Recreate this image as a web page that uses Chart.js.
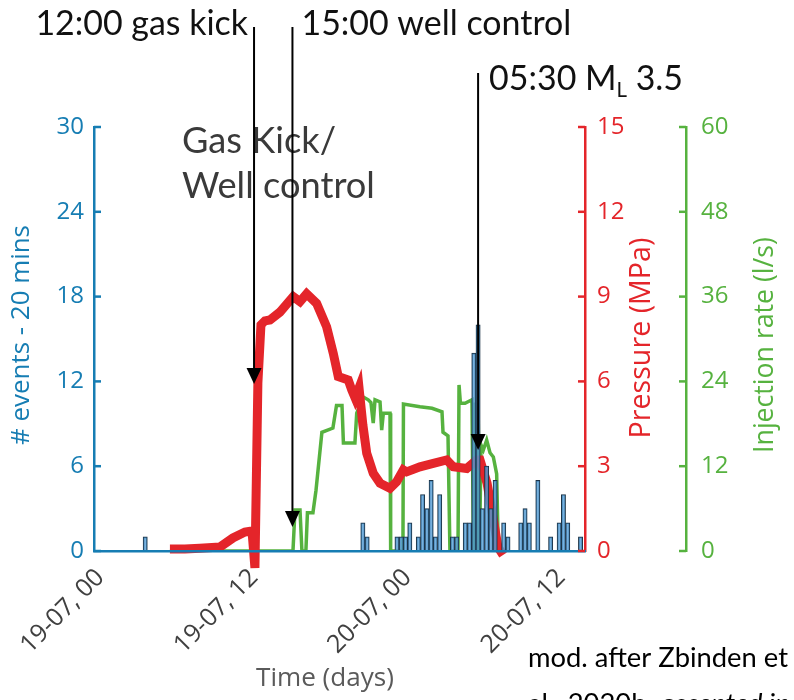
<!DOCTYPE html>
<html>
<head>
<meta charset="utf-8">
<script src="https://cdn.jsdelivr.net/npm/chart.js@4.4.0/dist/chart.umd.min.js"></script>
<style>
  html, body { margin: 0; padding: 0; background: #ffffff; }
  canvas { display: block; }
</style>
</head>
<body>
<canvas id="c" width="794" height="700"></canvas>
<script>
// ---- Time axis (hours since 19-07 00:00) ----
const tickHours  = [0, 12, 24, 36];
const tickLabels = ['19-07, 00', '19-07, 12', '20-07, 00', '20-07, 12'];

// ---- Seismic events per 20-minute bin (bin index counted from 19-07 00:00) ----
const eventBins   = [10, 61, 62, 69, 70, 71, 72, 74, 75, 76, 77, 78, 79, 82, 83, 85, 86, 87, 88, 89,
                     90, 91, 92, 94, 95, 98, 99, 100, 102, 105, 107, 108, 109, 112];
const eventCounts = [1, 2, 1, 1, 1, 1, 2, 1, 4, 3, 5, 1, 4, 1, 1, 2, 2, 14, 16, 3,
                     6, 3, 5, 2, 1, 2, 3, 2, 5, 1, 2, 4, 2, 1];

// ---- Wellhead pressure (MPa) ----
const pressureHours = [5.43, 6.6, 7.77, 9.34, 10.35, 11.29, 11.84, 12.07, 12.3, 12.54, 12.85, 13.24, 14.02,
                       15.06, 15.59, 16.11, 16.89, 17.67, 18.19, 18.58, 19.36, 19.63, 19.9, 20.2, 20.5,
                       20.8, 21.31, 21.84, 22.62, 23.14, 23.66, 23.92, 24.96, 26.0, 27.05, 27.56,
                       28.61, 29.39, 29.65, 30.2, 30.66, 31.05, 31.45];
const pressureMPa   = [0.07, 0.07, 0.1, 0.14, 0.46, 0.67, 0.71, -0.6, 5.94, 8.0, 8.14, 8.17, 8.45,
                       9.0, 8.82, 9.1, 8.76, 7.93, 6.99, 6.17, 6.05, 5.7, 5.41, 5.77, 4.46,
                       3.46, 2.75, 2.4, 2.22, 2.45, 2.87, 2.8, 2.98, 3.1, 3.22, 2.98,
                       2.92, 3.22, 3.22, 2.4, 1.2, 0.14, -0.14];

// ---- Injection rate (l/s) ----
const rateHours = [5.43, 15.04, 15.2, 15.59, 15.74, 16.05, 16.17, 16.6, 16.84, 17.3, 18.16, 18.44, 18.87,
                   18.98, 19.88, 20.02, 20.53, 20.92, 21.13, 21.31, 21.45, 21.84, 21.97, 22.1, 22.62,
                   22.67, 23.63, 23.67, 24.96, 25.9, 26.68, 26.76, 27.15, 27.3, 27.93, 28.01, 28.12,
                   28.48, 29.02, 29.14, 29.26, 29.38, 29.5, 29.61, 29.73, 29.91, 30.17, 30.43, 30.69,
                   30.95, 31.08, 31.6];
const rateLps   = [0, 0, 5.8, 5.8, 0, 0, 5.4, 5.4, 8.6, 16.8, 17.4, 20.6, 20.6,
                   15.3, 15.3, 19.5, 21.8, 21.4, 21.0, 18.1, 21.4, 21.1, 17.1, 19.5, 19.5,
                   0, 0, 20.8, 20.4, 20.2, 19.7, 16.8, 16.3, 0, 0, 23.5, 20.9,
                   20.9, 21.4, 0, 21, 0, 21, 0, 15, 14.3, 15.7, 13.9, 13.3,
                   10.9, 0, 0];

// ---- Operational events (hours since 19-07 00:00) ----
const markerHours = [12, 15, 29.5];

const BLUE  = '#167db3';
const RED   = '#e4252a';
const GREEN = '#56b23f';

// Font size (px) that makes `text` span `target` pixels
function fitSize(ctx, text, family, target, style) {
  ctx.font = (style || '') + ' 100px ' + family;
  return 100 * target / ctx.measureText(text).width;
}

const overlay = {
  id: 'overlay',
  afterDraw(chart) {
    const ctx = chart.ctx;
    const { x, y, yP, yQ } = chart.scales;
    ctx.save();

    // inward tick marks on the three value axes
    const axes = [[y, y.right, 1, BLUE], [yP, yP.left, -1, RED], [yQ, yQ.left, -1, GREEN]];
    for (const [s, ax, dir, col] of axes) {
      ctx.strokeStyle = col;
      ctx.lineWidth = 2.5;
      for (const t of s.ticks) {
        const py = s.getPixelForValue(t.value);
        ctx.beginPath();
        ctx.moveTo(ax, py);
        ctx.lineTo(ax + dir * 7, py);
        ctx.stroke();
      }
    }

    // axis titles
    const vTitle = (text, cx, cy, len, color) => {
      const fs = fitSize(ctx, text, '"Open Sans"', len);
      ctx.save();
      ctx.translate(cx, cy);
      ctx.rotate(-Math.PI / 2);
      ctx.font = fs + 'px "Open Sans"';
      ctx.fillStyle = color;
      ctx.textAlign = 'center';
      ctx.textBaseline = 'middle';
      ctx.fillText(text, 0, 0);
      ctx.restore();
    };
    vTitle('# events - 20 mins', 22, 335, 220, BLUE);
    vTitle('Pressure (MPa)', 642, 338, 201, RED);
    vTitle('Injection rate (l/s)', 765, 345, 216, GREEN);

    let fs = fitSize(ctx, 'Time (days)', '"Open Sans"', 138);
    ctx.font = fs + 'px "Open Sans"';
    ctx.fillStyle = '#5a5a5a';
    ctx.textAlign = 'center';
    ctx.textBaseline = 'alphabetic';
    ctx.fillText('Time (days)', 325, 686);

    // phase label
    fs = fitSize(ctx, 'Well control', 'Lato', 193);
    ctx.font = fs + 'px Lato';
    ctx.fillStyle = '#3a3a3a';
    ctx.textAlign = 'left';
    ctx.fillText('Gas Kick/', 182, 153);
    ctx.fillText('Well control', 182, 198);

    // event arrows with their labels
    const af = fitSize(ctx, '15:00 well control', 'Lato', 270);
    const tops = [27, 27, 73];
    const tips = [384, 527, 450];
    markerHours.forEach((h, i) => {
      const px = x.getPixelForValue(h);
      ctx.strokeStyle = '#000';
      ctx.fillStyle = '#000';
      ctx.lineWidth = 2;
      ctx.beginPath();
      ctx.moveTo(px, tops[i]);
      ctx.lineTo(px, tips[i] - 12);
      ctx.stroke();
      ctx.beginPath();
      ctx.moveTo(px - 7.5, tips[i] - 16);
      ctx.lineTo(px + 7.5, tips[i] - 16);
      ctx.lineTo(px, tips[i]);
      ctx.closePath();
      ctx.fill();
    });
    ctx.font = af + 'px Lato';
    ctx.fillStyle = '#111';
    ctx.textBaseline = 'alphabetic';
    const p0 = x.getPixelForValue(markerHours[0]);
    const p1 = x.getPixelForValue(markerHours[1]);
    const p2 = x.getPixelForValue(markerHours[2]);
    ctx.textAlign = 'right';
    ctx.fillText('12:00 gas kick', p0 - 6, 35);
    ctx.textAlign = 'left';
    ctx.fillText('15:00 well control', p1 + 9, 35);
    // magnitude label with subscript
    let tx = p2 + 11;
    ctx.fillText('05:30 M', tx, 90);
    tx += ctx.measureText('05:30 M').width;
    ctx.font = (af * 0.6) + 'px Lato';
    ctx.fillText('L', tx, 97);
    tx += ctx.measureText('L').width;
    ctx.font = af + 'px Lato';
    ctx.fillText(' 3.5', tx, 90);

    // source note
    const cf = fitSize(ctx, 'mod. after Zbinden et', 'Lato', 260);
    ctx.font = cf + 'px Lato';
    ctx.fillStyle = '#000';
    ctx.fillText('mod. after Zbinden et', 528, 667);
    ctx.fillText('al., 2020b, ', 528, 713);
    const w2 = ctx.measureText('al., 2020b, ').width;
    ctx.font = 'italic ' + cf + 'px Lato';
    ctx.fillText('accepted in', 528 + w2, 713);

    ctx.restore();
  }
};

new Chart(document.getElementById('c'), {
  type: 'bar',
  data: {
    datasets: [
      {
        type: 'bar',
        label: '# events',
        data: eventBins.map((b, i) => ({ x: (b + 0.5) / 3, y: eventCounts[i] })),
        xAxisID: 'x',
        yAxisID: 'y',
        backgroundColor: 'rgba(82,156,214,0.78)',
        borderColor: '#1c3346',
        borderWidth: 1,
        barPercentage: 1,
        categoryPercentage: 1,
        order: 0
      },
      {
        type: 'line',
        label: 'Pressure',
        data: pressureHours.map((h, i) => ({ x: h, y: pressureMPa[i] })),
        xAxisID: 'x',
        yAxisID: 'yP',
        borderColor: RED,
        borderWidth: 9,
        pointRadius: 0,
        tension: 0,
        fill: false,
        clip: false,
        order: 1
      },
      {
        type: 'line',
        label: 'Injection rate',
        data: rateHours.map((h, i) => ({ x: h, y: rateLps[i] })),
        xAxisID: 'x',
        yAxisID: 'yQ',
        borderColor: GREEN,
        borderWidth: 3.5,
        pointRadius: 0,
        tension: 0,
        fill: false,
        order: 2
      }
    ]
  },
  options: {
    responsive: false,
    animation: false,
    events: [],
    layout: { padding: { top: 127, left: 0, right: 0, bottom: 0 } },
    plugins: { legend: { display: false }, tooltip: { enabled: false } },
    scales: {
      x: {
        type: 'linear',
        position: 'bottom',
        offset: false,
        min: -0.5,
        max: 37.85,
        grid: { display: false, drawTicks: false, offset: false },
        border: { color: BLUE, width: 2.5, z: 1 },
        afterBuildTicks: s => { s.ticks = tickHours.map(v => ({ value: v })); },
        afterFit: s => { s.height = 149; },
        ticks: {
          autoSkip: false,
          minRotation: 45,
          maxRotation: 45,
          padding: 12,
          color: '#404040',
          font: { family: '"Open Sans"', size: 25 },
          callback: v => tickLabels[tickHours.indexOf(v)]
        }
      },
      y: {
        position: 'left',
        min: 0,
        max: 30,
        grid: { display: false, drawTicks: false },
        border: { color: BLUE, width: 2.5 },
        afterFit: s => { s.width = 94; },
        ticks: { stepSize: 6, padding: 10, color: BLUE, font: { family: '"Open Sans"', size: 24 } }
      },
      yP: {
        position: 'right',
        weight: 0,
        min: 0,
        max: 15,
        grid: { display: false, drawTicks: false },
        border: { color: RED, width: 2.5 },
        afterFit: s => { s.width = 101; },
        ticks: { stepSize: 3, padding: 12, color: RED, font: { family: '"Open Sans"', size: 24 } }
      },
      yQ: {
        position: 'right',
        weight: 1,
        min: 0,
        max: 60,
        grid: { display: false, drawTicks: false },
        border: { color: GREEN, width: 2.5 },
        afterFit: s => { s.width = 108; },
        ticks: { stepSize: 12, padding: 15, color: GREEN, font: { family: '"Open Sans"', size: 24 } }
      }
    }
  },
  plugins: [overlay]
});
</script>
</body>
</html>
